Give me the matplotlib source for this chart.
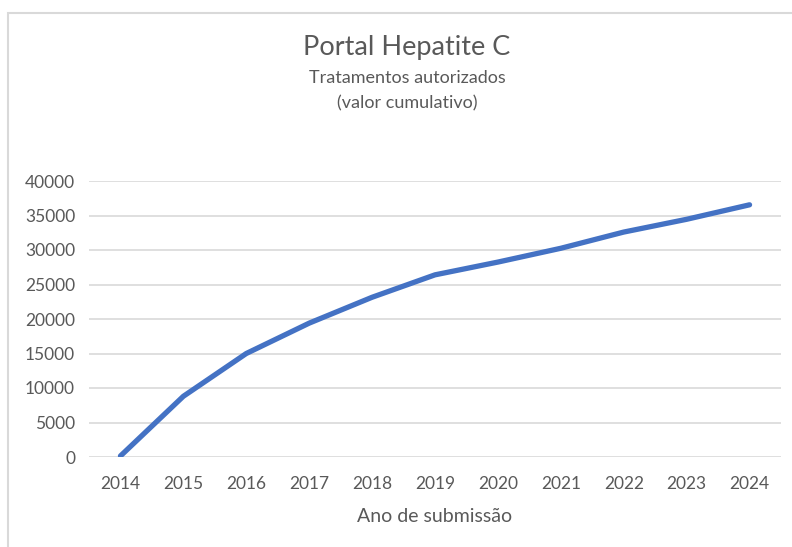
import matplotlib
matplotlib.use('Agg')
import matplotlib.pyplot as plt
from matplotlib.patches import Rectangle

anos = [2014, 2015, 2016, 2017, 2018, 2019, 2020, 2021, 2022, 2023, 2024]
tratamentos = [150, 8800, 15000, 19400, 23150, 26400, 28250, 30250, 32600, 34450, 36550]
y_ticks = [0, 5000, 10000, 15000, 20000, 25000, 30000, 35000, 40000]

plt.rcParams['font.family'] = ['Lato', 'DejaVu Sans']
cor_texto = '#595959'

fig = plt.figure(figsize=(7.92, 5.47), dpi=100)
W, H = 792, 547

# chart border (cropped at right and bottom)
fig.patches.append(Rectangle((8 / W, -0.1), 1.2, (H - 13) / H + 0.1, transform=fig.transFigure,
                             fill=False, edgecolor='#d9d9d9', linewidth=1.5))

ax = fig.add_axes([89 / W, (H - 457) / H, (781 - 89) / W, (457 - 181) / H])
ax.plot(anos, tratamentos, color='#4472C4', linewidth=3.8, solid_capstyle='round')
ax.set_xlim(2013.5, 2024.5)
ax.set_ylim(0, 40000)
ax.set_yticks(y_ticks)
ax.set_xticks(anos)
ax.set_xticklabels([str(a) for a in anos])
ax.grid(axis='y', color='#d9d9d9', linewidth=1.2)
ax.set_axisbelow(True)
for s in ax.spines.values():
    s.set_visible(False)
ax.tick_params(length=0, labelsize=12.5, colors=cor_texto, pad=10)
ax.tick_params(axis='x', pad=14)
ax.set_xlabel('Ano de submissão', fontsize=14, color=cor_texto, labelpad=11)

fig.text(407 / W, 1 - 48 / H, 'Portal Hepatite C', ha='center', va='center', fontsize=19.5, color=cor_texto)
fig.text(407 / W, 1 - 78 / H, 'Tratamentos autorizados', ha='center', va='center', fontsize=13, color=cor_texto)
fig.text(407 / W, 1 - 103 / H, '(valor cumulativo)', ha='center', va='center', fontsize=13, color=cor_texto)

fig.savefig('out.png', dpi=100)
